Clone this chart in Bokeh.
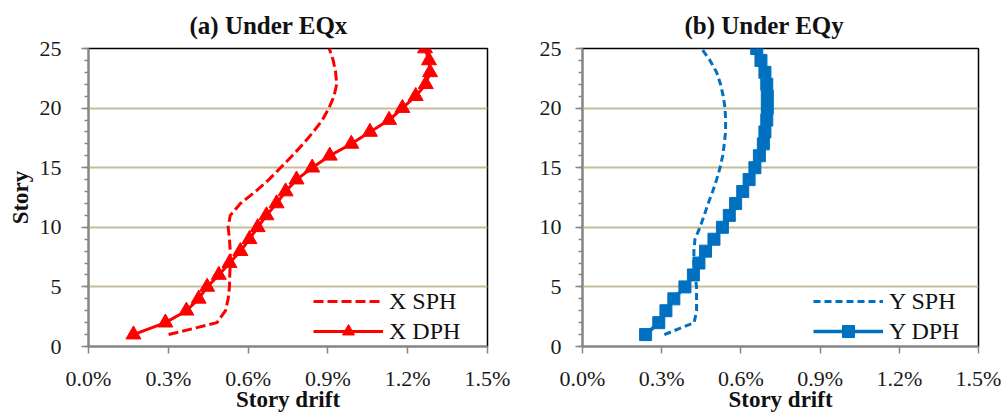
from bokeh.plotting import figure
from bokeh.models import (FixedTicker, PrintfTickFormatter, Legend, LegendItem,
                          Range1d)
from bokeh.layouts import row
from bokeh.embed import file_html
from bokeh.resources import INLINE

# Story numbers (1..25) and inter-story drift ratios in percent
stories = list(range(1, 26))

x_sph = [0.301, 0.483, 0.515, 0.525, 0.530, 0.531, 0.533, 0.533, 0.530, 0.525,
         0.533, 0.571, 0.628, 0.678, 0.722, 0.766, 0.807, 0.845, 0.879, 0.904,
         0.923, 0.933, 0.929, 0.920, 0.905]
x_dph = [0.169, 0.289, 0.368, 0.414, 0.446, 0.490, 0.530, 0.571, 0.605, 0.636,
         0.669, 0.707, 0.741, 0.782, 0.841, 0.907, 0.988, 1.058, 1.130, 1.180,
         1.230, 1.268, 1.284, 1.280, 1.265]
y_sph = [0.310, 0.423, 0.432, 0.432, 0.432, 0.426, 0.422, 0.422, 0.426, 0.445,
         0.461, 0.476, 0.493, 0.508, 0.521, 0.531, 0.537, 0.542, 0.542, 0.540,
         0.533, 0.523, 0.508, 0.483, 0.451]
y_dph = [0.239, 0.289, 0.316, 0.346, 0.388, 0.420, 0.441, 0.466, 0.498, 0.530,
         0.556, 0.580, 0.607, 0.631, 0.653, 0.670, 0.685, 0.691, 0.698, 0.700,
         0.700, 0.698, 0.691, 0.676, 0.660]

drift_ticks = [0.0, 0.3, 0.6, 0.9, 1.2, 1.5]
story_ticks = [0, 5, 10, 15, 20, 25]
story_minor = list(range(0, 26))
grid_stories = [5, 10, 15, 20]

SERIF = "Liberation Serif"
AXIS_GREY = "#868686"
GRID_TAN = "#C4BD97"
INK = "#111111"


def panel(title, sph, dph, names, color, marker, msize, dash, lw_sph, lw_dph,
          width, border_left, border_right, ylabel, y_standoff, title_offset,
          legend_x):
    p = figure(width=width, height=414, output_backend="svg",
               toolbar_location=None,
               x_range=Range1d(0, 1.5), y_range=Range1d(0, 25),
               min_border_left=border_left, min_border_right=border_right,
               min_border_top=47, min_border_bottom=67)

    # heading, centred over the whole chart area rather than the plot frame
    p.title.text = title
    p.title.align = "left"
    p.title.offset = title_offset
    p.title.text_font = SERIF
    p.title.text_font_size = "25px"
    p.title.text_font_style = "bold"
    p.title.text_color = INK
    p.title.standoff = 19

    p.outline_line_color = "black"
    p.outline_line_width = 1.5
    p.background_fill_color = "white"
    p.border_fill_color = "white"

    p.xgrid.visible = False
    p.ygrid.ticker = FixedTicker(ticks=grid_stories)
    p.ygrid.grid_line_color = GRID_TAN
    p.ygrid.grid_line_width = 2

    xa = p.xaxis[0]
    xa.ticker = FixedTicker(ticks=drift_ticks)
    xa.formatter = PrintfTickFormatter(format="%.1f%%")
    xa.axis_label = "Story drift"
    xa.axis_label_text_font = SERIF
    xa.axis_label_text_font_size = "23px"
    xa.axis_label_text_font_style = "bold"
    xa.axis_label_text_color = INK
    xa.axis_label_standoff = -7
    xa.major_label_text_font = SERIF
    xa.major_label_text_font_size = "22px"
    xa.major_label_text_color = "#1a1a1a"
    xa.major_label_standoff = 12
    xa.axis_line_color = AXIS_GREY
    xa.axis_line_width = 2
    xa.major_tick_line_color = AXIS_GREY
    xa.major_tick_line_width = 1.5
    xa.major_tick_in = 0
    xa.major_tick_out = 7
    xa.minor_tick_line_color = None

    ya = p.yaxis[0]
    ya.ticker = FixedTicker(ticks=story_ticks, minor_ticks=story_minor)
    ya.axis_label = ylabel
    ya.axis_label_text_font = SERIF
    ya.axis_label_text_font_size = "23px"
    ya.axis_label_text_font_style = "bold"
    ya.axis_label_text_color = INK
    ya.axis_label_standoff = 4
    ya.major_label_text_font = SERIF
    ya.major_label_text_font_size = "22px"
    ya.major_label_text_color = "#1a1a1a"
    ya.major_label_standoff = y_standoff
    ya.axis_line_color = AXIS_GREY
    ya.axis_line_width = 2
    ya.major_tick_line_color = AXIS_GREY
    ya.major_tick_line_width = 1.5
    ya.major_tick_in = 0
    ya.major_tick_out = 7
    ya.minor_tick_line_color = AXIS_GREY
    ya.minor_tick_line_width = 1.5
    ya.minor_tick_in = 0
    ya.minor_tick_out = 4

    r_sph = p.line(sph, stories, line_color=color, line_width=lw_sph,
                   line_dash=dash, line_join="round")
    r_dph = p.line(dph, stories, line_color=color, line_width=lw_dph,
                   line_join="round")
    r_mk = p.scatter(dph, stories, marker=marker, size=msize,
                     fill_color=color, line_color=color)

    legend = Legend(items=[LegendItem(label=names[0], renderers=[r_sph]),
                           LegendItem(label=names[1], renderers=[r_dph, r_mk])],
                    location=(legend_x, 0), glyph_width=70, glyph_height=30,
                    label_height=30, spacing=0, padding=0, margin=0,
                    label_standoff=6, border_line_color=None,
                    background_fill_alpha=0,
                    label_text_font=SERIF, label_text_font_size="24px",
                    label_text_color=INK)
    p.add_layout(legend)
    return p


left = panel("(a) Under EQx", x_sph, x_dph, ["X SPH", "X DPH"], "#FF0000",
             "triangle", 15, "10 4", 3, 3, 530, 88, 43, "Story", 20, 101, 225)
right = panel("(b) Under EQy", y_sph, y_dph, ["Y SPH", "Y DPH"], "#0070C0",
              "square", 12, "7 4", 3, 3.5, 476, 52, 28, "", 14, 102, 231)

layout = row(left, right)
open("out.html", "w").write(file_html(layout, INLINE))
